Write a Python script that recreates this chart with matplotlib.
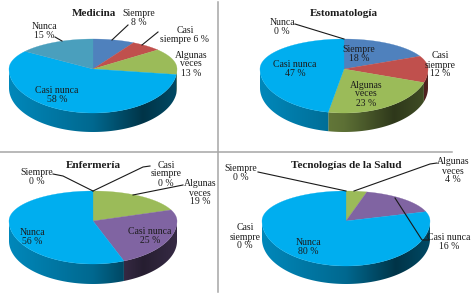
import numpy as np
import matplotlib
matplotlib.use("Agg")
import matplotlib.pyplot as plt
from matplotlib.patches import Polygon

plt.rcParams['font.family'] = ['Liberation Serif', 'DejaVu Serif']

CYAN = '#00aeef'
BLUE = '#4f81bd'
RED = '#c0504d'
GREEN = '#9bbb59'
PURPLE = '#8064a2'
TEAL = '#4a9fbd'
TEXT = '#1c1c1c'

categories = ['Siempre', 'Casi siempre', 'Algunas veces', 'Casi nunca', 'Nunca']

medicina = [8, 6, 13, 58, 15]
estomatologia = [18, 12, 23, 47, 0]
enfermeria = [0, 0, 19, 25, 56]
tecnologias = [0, 0, 4, 16, 80]

colors_a = [BLUE, RED, GREEN, CYAN, TEAL]
colors_b = [BLUE, RED, GREEN, PURPLE, CYAN]


def ring(cx, cy, rx, ry_top, ry_bot, t):
    # top half of the disc is squashed more than the front, like the perspective pie
    t = np.radians(t)
    c = np.cos(t)
    ry = np.where(c > 0, ry_top, ry_bot)
    return cx + rx * np.sin(t), cy - ry * c


def draw_pie(ax, values, colors, geom):
    cx, cy, rx, ry_top, ry_bot, depth = geom
    edges = np.cumsum([0] + list(values)) / sum(values) * 360
    u = np.linspace(0, 1, 200)
    f = np.interp(u, [0, 0.5, 0.8, 1], [0.78, 0.6, 0.3, 0.42])

    for i in range(len(values)):
        if values[i] == 0:
            continue
        # side wall: gradient image clipped to the visible part of the wedge
        a0, a1 = max(edges[i], 90), min(edges[i + 1], 270)
        if a1 > a0:
            t = np.linspace(a0, a1, 120)
            x, y = ring(cx, cy, rx, ry_top, ry_bot, t)
            wall = Polygon(np.c_[np.r_[x, x[::-1]], np.r_[y, y[::-1] + depth]],
                           transform=ax.transData, fc='none', ec='none')
            ax.add_patch(wall)
            rgb = np.array(matplotlib.colors.to_rgb(colors[i]))
            grad = (f[:, None] * rgb)[None, :, :]
            im = ax.imshow(grad, extent=(cx - rx, cx + rx, cy + ry_bot + depth, cy - ry_top),
                           aspect='auto', zorder=1, interpolation='bilinear')
            im.set_clip_path(wall)

        # top face
        t = np.linspace(edges[i], edges[i + 1], 120)
        x, y = ring(cx, cy, rx, ry_top, ry_bot, t)
        ax.fill(np.r_[cx, x], np.r_[cy, y], color=colors[i], lw=0.2, zorder=2)


fig = plt.figure(figsize=(4.75, 2.99), dpi=100)
ax = fig.add_axes([0, 0, 1, 1])
ax.axis('off')

# panel dividers
ax.plot([218, 218], [2, 292], color='#a6a6a6', lw=1.1, zorder=0)
ax.plot([0, 452], [152, 152], color='#a6a6a6', lw=1.1, zorder=0)

draw_pie(ax, medicina, colors_a, (93, 69, 84, 30, 44, 19))
draw_pie(ax, estomatologia, colors_a, (344, 69, 84, 30, 44, 19))
draw_pie(ax, enfermeria, colors_b, (93, 221, 84, 30, 43, 20))
draw_pie(ax, tecnologias, colors_b, (346, 221, 84, 30, 45, 18))

ax.set_xlim(0, 475)
ax.set_ylim(299, 0)

leaders = [
    [(128, 25), (112, 40)],
    [(158, 32), (142, 45)],
    [(55, 37), (62, 41)],
    [(295, 24), (344, 39)],
    [(53, 174), (63, 176), (93, 191)],
    [(150, 166), (143, 167), (93, 191)],
    [(183, 185), (133, 195)],
    [(258, 172), (346, 191)],
    [(437, 163), (430, 164), (354, 191)],
    [(395, 198), (422, 240), (429, 240)],
]
for seg in leaders:
    xs, ys = zip(*seg)
    ax.plot(xs, ys, color='#1a1a1a', lw=0.8, zorder=3)

titles = [('Medicina', 94, 13), ('Estomatología', 344, 13),
          ('Enfermería', 93, 165), ('Tecnologías de la Salud', 346, 165)]
for s, x, y in titles:
    ax.text(x, y, s, ha='center', va='center', fontsize=8, fontweight='bold',
            color=TEXT, zorder=4)

labels = [
    ('Siempre\n8 %', 139, 18), ('Casi\nsiempre 6 %', 185, 35),
    ('Algunas\nveces\n13 %', 191, 64), ('Casi nunca\n58 %', 57, 95),
    ('Nunca\n15 %', 44, 31),
    ('Nunca\n0 %', 282, 27), ('Siempre\n18 %', 359, 54),
    ('Casi\nsiempre\n12 %', 440, 65), ('Algunas\nveces\n23 %', 366, 94),
    ('Casi nunca\n47 %', 295, 69),
    ('Siempre\n0 %', 37, 177), ('Casi\nsiempre\n0 %', 166, 174),
    ('Algunas\nveces\n19 %', 200, 193), ('Casi nunca\n25 %', 150, 236),
    ('Nunca\n56 %', 32, 237),
    ('Siempre\n0 %', 241, 173), ('Casi\nsiempre\n0 %', 245, 237),
    ('Algunas\nveces\n4 %', 453, 171), ('Casi nunca\n16 %', 449, 242),
    ('Nunca\n80 %', 308, 247),
]
for s, x, y in labels:
    ax.text(x, y, s, ha='center', va='center', fontsize=7, color=TEXT,
            linespacing=1.0, zorder=4)

fig.savefig('out.png', dpi=100)
